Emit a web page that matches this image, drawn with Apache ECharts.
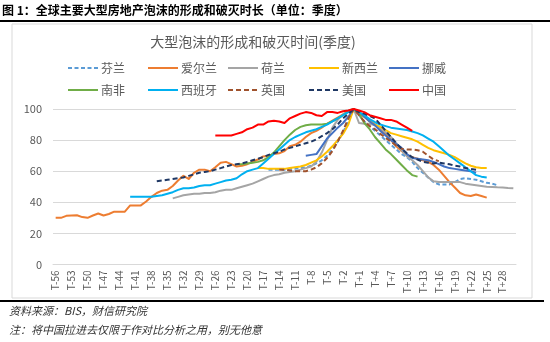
<!DOCTYPE html>
<html><head><meta charset="utf-8">
<script src="https://cdn.jsdelivr.net/npm/echarts@6/dist/echarts.min.js"></script>
<style>html,body{margin:0;padding:0;background:#fff}#c{width:550px;height:342px}</style>
</head><body><div id="c"></div>
<script>
// Categories: quarters relative to the bubble peak T
const firstOffset = -56, lastOffset = 30;
const categories = [];
for (let t = firstOffset; t <= lastOffset; t++) categories.push(t === 0 ? 'T' : (t < 0 ? 'T' + t : 'T+' + t));
const yTicks = [0, 20, 40, 60, 80, 100];

const seriesNames = ['芬兰', '爱尔兰', '荷兰', '新西兰', '挪威', '南非', '西班牙', '英国', '美国', '中国'];

// Each series: first quarter offset + values (index of peak = 100)
const finlandStart = -16;
const finland = [61, 61, 61, 61, 61.5, 61.5, 62, 62.5, 63.5, 65, 67, 70, 74, 79, 85, 92, 100,
  96, 92, 89, 86, 83, 80, 77, 74, 71, 69, 66, 62, 59, 56, 53, 51.5, 51.5, 51.5, 53, 55, 55.5, 55, 54.5, 53.5, 52.5, 52, 51];

const irelandStart = -56;
const ireland = [30, 30, 31.3, 31.5, 31.7, 30.5, 30, 31.5, 32.8, 31.5, 32.5, 34, 34, 34, 38, 38, 38, 40.5, 43.5, 46,
  47.5, 48, 50.5, 54, 57, 55, 59, 61, 61, 60, 62.5, 65.5, 66, 64.5, 63, 63.5, 64.5, 66, 67.5, 69.5, 70, 71, 71.5, 73, 76,
  77, 79, 82, 84.5, 86, 88, 90.5, 92.5, 94.5, 96.5, 98.5, 100,
  97, 95, 92.5, 90, 87, 84, 80, 76, 73, 70.5, 69, 68, 67, 66, 64, 61, 57, 53, 49.5, 46, 44.5, 44, 45, 44, 43];

const netherlandsStart = -34;
const netherlands = [42.5, 43.5, 44.5, 45, 45.5, 45.5, 46, 46, 46.5, 47.5, 48, 48, 49, 50, 51, 52, 53.5, 55, 56.5, 57.5,
  58, 59, 59.5, 60, 61, 62, 63, 66, 72, 80, 88, 93, 96.5, 99, 100,
  91, 90.5, 90.5, 89.5, 87.5, 85, 82, 78, 73.5, 69.5, 67, 64, 60, 56, 53.5, 53, 53, 53, 53, 53, 52, 51.5, 51, 50.5, 50,
  49.8, 49.6, 49.5, 49.2, 49];

const newZealandStart = -18;
const newZealand = [62, 62, 61.5, 61.5, 61.5, 61.5, 62, 62.5, 63, 64, 65.5, 67, 69.5, 72.5, 76, 80, 84, 90, 100,
  98, 95, 92, 90, 88.5, 86.5, 84.5, 83.5, 82.5, 81.5, 80.5, 79, 77, 75, 73.5, 72.5, 71.5, 70.5, 69, 67, 65, 63.5, 62.5, 62, 62];

const norwayStart = -9;
const norway = [70, 70.5, 71, 76, 81, 84.5, 88, 91, 95, 100,
  98, 95, 92, 89.5, 86, 83, 80, 77.5, 75, 71, 68.5, 68, 67.5, 67, 66, 64.5, 63, 62, 61.5, 61, 60.5, 60, 59];

const southAfricaStart = -22;
const southAfrica = [64.5, 64.5, 65, 65.5, 66, 67, 69, 72, 76, 80, 83.5, 86.5, 88.5, 89.5, 90, 90, 90, 90.5, 92, 94, 96, 98.5, 100,
  97, 91, 87, 82, 78, 74, 71, 67.5, 64, 60.5, 57.5, 56.5];

const spainStart = -42;
const spain = [43.5, 43.5, 43.5, 43.5, 43.5, 44, 44.5, 45.5, 46.5, 48, 49, 49, 49.5, 50.5, 51, 51, 52, 53, 54, 54.5, 55.5,
  58, 60, 61, 62, 65, 68, 71, 74, 77, 80, 82, 83.5, 85, 86, 87, 88.5, 90, 92, 94, 96, 98, 100,
  98, 96, 93.5, 91.5, 90, 89, 88, 87.5, 87, 86.5, 85.5, 84.5, 83, 81, 79, 76, 73, 70, 67.5, 65, 62.5, 60, 57.5, 56.5, 56];

const ukStart = -14;
const uk = [61, 61, 60.5, 60, 60, 60, 61, 62.5, 65, 68.5, 73, 79, 86, 94, 100,
  96, 92, 89, 87, 84, 81.5, 79, 76.5, 74.5, 74, 74, 73.5, 72.5, 70, 67.5, 66.5];

const usaStart = -37;
const usa = [53.5, 54, 54.5, 55, 55.5, 56, 57, 58, 59, 59.5, 60, 61, 62, 63, 64, 64.5, 65, 66, 67, 68, 69, 70.5, 71.5,
  72.5, 74, 75, 76, 77, 78, 79, 80.5, 82.5, 84.5, 87, 90, 94, 97, 100,
  98, 97, 95.5, 94, 90, 86, 82, 78, 74.5, 71.5, 69, 67.5, 66, 65.5, 65, 65.5, 65, 64.5, 63.5, 63, 62, 61.5, 61];

const chinaStart = -26;
const china = [83, 83, 83, 83, 84, 85, 87, 88, 90, 90, 92, 92.5, 92, 91, 94, 95.5, 97, 98, 97.5, 96, 95.5, 98, 98, 97.5, 98.5, 99, 100,
  99, 98, 96, 95, 94, 93, 93, 92, 90, 88, 86];

const rawSeries = [
  [finlandStart, finland], [irelandStart, ireland], [netherlandsStart, netherlands], [newZealandStart, newZealand],
  [norwayStart, norway], [southAfricaStart, southAfrica], [spainStart, spain], [ukStart, uk], [usaStart, usa], [chinaStart, china]
];

const colors = ['#5B9BD5', '#ED7D31', '#A5A5A5', '#FFC000', '#4472C4', '#70AD47', '#00B0F0', '#A0522D', '#1F3864', '#FF0000'];
const dashes = [[4, 2.5], null, null, null, null, null, null, [5, 3], [5, 3], null];

function pad(start, vals) {
  const arr = new Array(categories.length).fill(null);
  vals.forEach((v, i) => { arr[start - firstOffset + i] = v; });
  return arr;
}

const FONT = '"Noto Sans CJK SC", "Noto Sans", sans-serif';
const legendX = [67, 147, 227, 308, 388];
const legendY = [69, 91];

const legends = seriesNames.map((n, i) => ({
  data: [n],
  left: legendX[i % 5],
  top: legendY[Math.floor(i / 5)] - 7,
  padding: 0,
  itemWidth: 30,
  itemHeight: 14,
  itemGap: 0,
  selectedMode: false,
  itemStyle: { opacity: 0 },
  lineStyle: { color: colors[i], width: 2, type: dashes[i] || 'solid', cap: 'butt' },
  textStyle: { fontSize: 12, color: '#595959', fontFamily: FONT, padding: [0, 0, 0, -2] }
}));

const series = seriesNames.map((n, i) => ({
  name: n,
  type: 'line',
  data: pad(rawSeries[i][0], rawSeries[i][1]),
  symbol: 'none',
  showSymbol: false,
  smooth: false,
  connectNulls: false,
  animation: false,
  lineStyle: { color: colors[i], width: 2, type: dashes[i] || 'solid', join: 'round', cap: 'butt' },
  itemStyle: { color: colors[i] }
}));

const chart = echarts.init(document.getElementById('c'));
chart.setOption({
  animation: false,
  backgroundColor: '#fff',
  graphic: [
    { type: 'rect', shape: { x: 12, y: 24, width: 520, height: 274 }, style: { fill: 'none', stroke: '#D9D9D9', lineWidth: 1 }, z: -1 },
    { type: 'rect', shape: { x: 0, y: 20, width: 550, height: 2 }, style: { fill: '#000' } },
    { type: 'rect', shape: { x: 0, y: 300, width: 544, height: 2 }, style: { fill: '#000' } },
    { type: 'text', left: 2, top: 4, style: { text: '图 1：全球主要大型房地产泡沫的形成和破灭时长（单位：季度）', font: 'bold 12px ' + FONT, fill: '#000' } },
    { type: 'text', left: 9, top: 305, style: { text: '资料来源：BIS，财信研究院', font: 'italic 11px ' + FONT, fill: '#333' } },
    { type: 'text', left: 9, top: 324, style: { text: '注：将中国拉进去仅限于作对比分析之用，别无他意', font: 'italic 11px ' + FONT, fill: '#333' } }
  ],
  title: {
    text: '大型泡沫的形成和破灭时间(季度)',
    left: 253, top: 35, textAlign: 'center',
    textStyle: { fontSize: 14, fontWeight: 'normal', color: '#595959', fontFamily: FONT },
    padding: 0
  },
  legend: legends,
  grid: { left: 53, right: 34, top: 109, bottom: 77.5, containLabel: false },
  xAxis: {
    type: 'category',
    data: categories,
    boundaryGap: true,
    axisLine: { show: true, lineStyle: { color: '#D9D9D9', width: 1 } },
    axisTick: { show: false },
    axisLabel: { interval: 2, rotate: 90, fontSize: 10, color: '#595959', fontFamily: FONT, margin: 6 },
    splitLine: { show: false }
  },
  yAxis: {
    type: 'value',
    min: yTicks[0], max: yTicks[yTicks.length - 1], interval: 20,
    axisLine: { show: false },
    axisTick: { show: false },
    axisLabel: { fontSize: 11, color: '#595959', fontFamily: FONT, margin: 11 },
    splitLine: { lineStyle: { color: '#D9D9D9', width: 1 } }
  },
  series: series
});
</script></body></html>
